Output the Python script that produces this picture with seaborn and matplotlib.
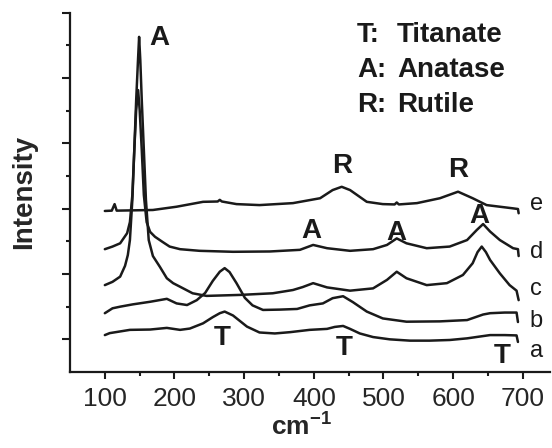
import pandas as pd
import seaborn as sns
import matplotlib.pyplot as plt

# Raman shift (cm-1) and stacked intensity of each spectrum
wn_a = [100, 107, 136, 165, 189, 208, 222, 241, 255, 265, 272, 284, 294, 304, 322, 344,
        366, 394, 419, 430, 442, 452, 466, 485, 509, 538, 566, 595, 620, 643, 653, 674, 691, 693]
int_a = [1.13, 1.19, 1.29, 1.30, 1.35, 1.29, 1.33, 1.49, 1.68, 1.80, 1.85, 1.73, 1.56, 1.39, 1.21, 1.18,
         1.22, 1.29, 1.32, 1.38, 1.41, 1.32, 1.18, 1.07, 1.00, 0.96, 0.96, 0.98, 1.03, 1.10, 1.13, 1.13, 1.12, 0.92]

wn_b = [100, 111, 122, 140, 165, 189, 203, 218, 232, 244, 255, 265, 272, 279, 289, 301, 312, 327,
        351, 376, 394, 413, 427, 442, 456, 476, 499, 533, 581, 620, 643, 653, 674, 691, 693]
int_b = [1.80, 1.95, 2.00, 2.07, 2.15, 2.24, 2.10, 2.05, 2.20, 2.42, 2.79, 3.07, 3.18, 3.06, 2.72, 2.27, 2.04, 1.90,
         1.91, 1.93, 2.04, 2.10, 2.26, 2.32, 2.14, 1.85, 1.64, 1.54, 1.55, 1.59, 1.76, 1.80, 1.82, 1.82, 1.53]

wn_c = [100, 111, 122, 129, 133, 136, 139.5, 142.3, 145, 147.6, 149.2, 150.9, 153, 156, 159, 163, 169,
        179, 189, 198, 208, 226, 246, 294, 341, 370, 384, 399, 419, 452, 485, 505, 519, 533, 562, 591,
        614, 628, 635, 641, 647, 653, 667, 681, 691, 694]
int_c = [2.66, 2.76, 2.92, 3.25, 3.58, 4.04, 5.27, 6.80, 8.33, 9.55, 10.26, 9.55, 8.33, 6.80, 5.27, 4.04, 3.55,
         3.22, 2.87, 2.72, 2.61, 2.41, 2.33, 2.36, 2.41, 2.51, 2.60, 2.72, 2.59, 2.49, 2.56, 2.82, 3.07, 2.87, 2.66, 2.72,
         2.97, 3.33, 3.67, 3.84, 3.67, 3.43, 3.02, 2.66, 2.49, 2.20]

wn_d = [100, 111, 122, 132, 136, 139.5, 142.3, 145, 147.8, 150, 153, 156, 160, 165, 172, 183, 193,
        208, 236, 284, 337, 380, 399, 419, 452, 485, 505, 519, 533, 562, 595, 620, 634, 643, 653, 667,
        686, 693, 694]
int_d = [3.76, 3.84, 3.94, 4.25, 4.59, 5.42, 6.80, 8.02, 8.63, 8.02, 6.80, 5.42, 4.59, 4.29, 4.14, 3.98, 3.84,
         3.76, 3.71, 3.68, 3.69, 3.74, 3.89, 3.79, 3.71, 3.76, 3.89, 4.09, 3.94, 3.79, 3.84, 4.04, 4.35, 4.53, 4.30, 4.04,
         3.79, 3.76, 3.55]

wn_e = [100, 110, 114, 117, 169, 203, 241, 262, 265, 268, 289, 322, 370, 409, 427, 440, 452, 476,
        499, 516, 519, 522, 548, 581, 607, 628, 648, 686, 693, 694]
int_e = [4.93, 4.94, 5.14, 4.94, 4.96, 5.06, 5.21, 5.22, 5.27, 5.22, 5.14, 5.11, 5.17, 5.32, 5.57, 5.67, 5.57, 5.21,
         5.14, 5.13, 5.19, 5.13, 5.17, 5.32, 5.52, 5.32, 5.11, 5.01, 4.99, 4.86]

samples = ["a", "b", "c", "d", "e"]
wn_all = [wn_a, wn_b, wn_c, wn_d, wn_e]
int_all = [int_a, int_b, int_c, int_d, int_e]

frames = []
for name, w, i in zip(samples, wn_all, int_all):
    frames.append(pd.DataFrame({"wn": w, "intensity": i, "sample": name}))
df = pd.concat(frames, ignore_index=True)

sns.set_style("ticks")
plt.rcParams['font.family'] = ['Liberation Sans', 'DejaVu Sans']
plt.rcParams['mathtext.fontset'] = 'custom'
plt.rcParams['mathtext.rm'] = 'Liberation Sans'
plt.rcParams['mathtext.bf'] = 'Liberation Sans:bold'

fig = plt.figure(figsize=(5.52, 4.48), dpi=100)
ax = fig.add_axes([70 / 552, 1 - 372 / 448, 480 / 552, 359.3 / 448])

sns.lineplot(data=df, x="wn", y="intensity", units="sample", estimator=None,
             sort=False, color="#1a1a1a", linewidth=1.8, ax=ax)

ax.set_xlim(50, 739)
ax.set_ylim(0, 11)
sns.despine(ax=ax)
for s in ["left", "bottom"]:
    ax.spines[s].set_linewidth(1.6)
    ax.spines[s].set_color("#1a1a1a")

ax.set_xticks([100, 200, 300, 400, 500, 600, 700])
ax.set_xticks([150, 250, 350, 450, 550, 650], minor=True)
ax.set_yticks([1, 3, 5, 7, 9, 11])
ax.set_yticks([2, 4, 6, 8, 10], minor=True)
ax.set_yticklabels([])
ax.tick_params(axis="x", which="major", length=5, width=1.5, pad=6, labelsize=19, color="#1a1a1a")
ax.tick_params(axis="x", which="minor", length=3, width=1.5, color="#1a1a1a")
ax.tick_params(axis="y", which="major", length=6, width=1.5, color="#1a1a1a")
ax.tick_params(axis="y", which="minor", length=3, width=1.5, color="#1a1a1a")

ax.set_xlabel(r"$\mathbf{cm}^{\mathbf{-1}}$", fontsize=19, va="baseline")
ax.xaxis.set_label_coords((301 - 70) / 480, -(435 - 372) / 359.3)
ax.set_ylabel("Intensity", fontsize=20, fontweight="bold")
ax.yaxis.set_label_coords(-0.068, 0.5)

bold = dict(fontsize=20, fontweight="bold", ha="center", va="baseline", color="#1a1a1a")
ax.text(177.5, 10.01, "A", **bold)
ax.text(440, 6.09, "R", **bold)
ax.text(607, 5.97, "R", **bold)
ax.text(397, 4.10, "A", **bold)
ax.text(519, 4.04, "A", **bold)
ax.text(637, 4.56, "A", **bold)
ax.text(268, 0.83, "T", **bold)
ax.text(444, 0.52, "T", **bold)
ax.text(671, 0.28, "T", **bold)

lab = dict(fontsize=17, ha="left", va="baseline", color="#1a1a1a", clip_on=False)
ax.text(710, 4.96, "e", **lab)
ax.text(710, 3.49, "d", **lab)
ax.text(710, 2.36, "c", **lab)
ax.text(710, 1.38, "b", **lab)
ax.text(710, 0.46, "a", **lab)

key = dict(fontsize=20, fontweight="bold", va="baseline", color="#1a1a1a")
for k, word, py in [("T:", "Titanate", 42), ("A:", "Anatase", 77), ("R:", "Rutile", 112)]:
    fig.text(357 / 552, 1 - py / 448, k, ha="left", **key)
    fig.text(397 / 552, 1 - py / 448, word, ha="left", **key)

fig.savefig("out.png", dpi=100)
